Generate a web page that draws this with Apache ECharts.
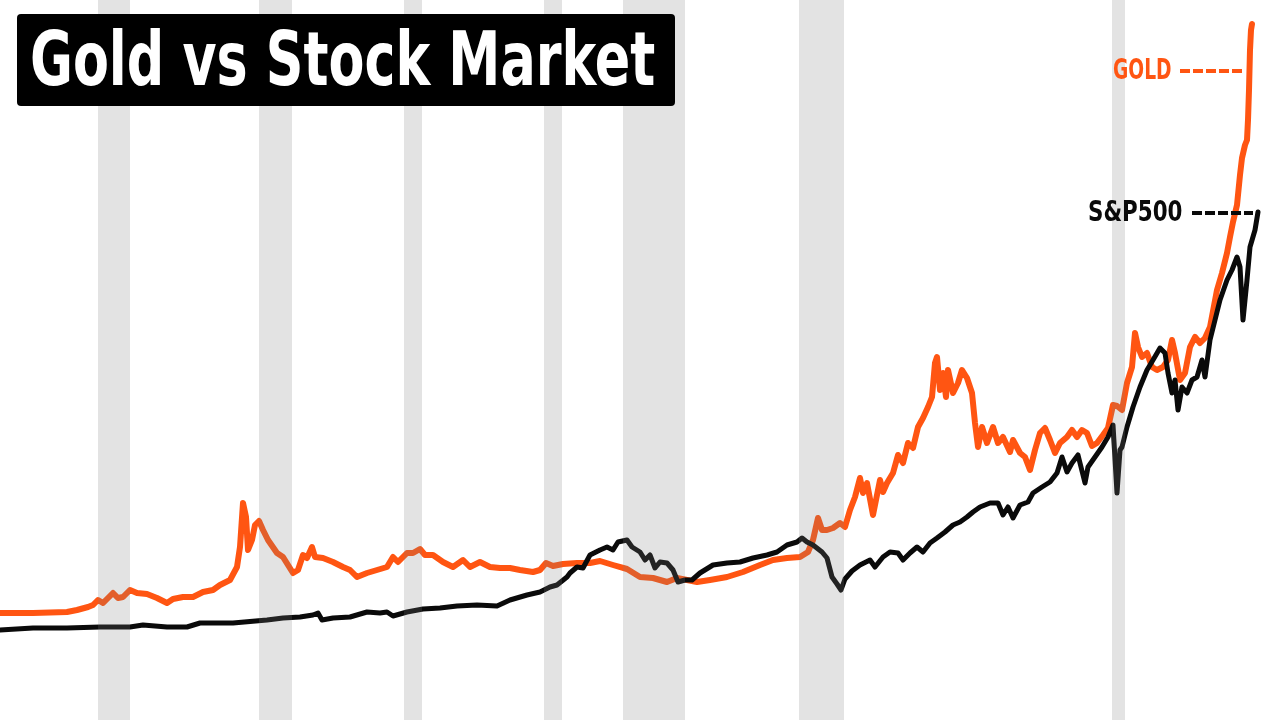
<!DOCTYPE html>
<html>
<head>
<meta charset="utf-8">
<script src="https://cdn.jsdelivr.net/npm/echarts@6/dist/echarts.min.js"></script>
<style>
html,body{margin:0;padding:0;background:#fff;}
#chart{width:1280px;height:720px;}
</style>
</head>
<body>
<div id="chart"></div>
<script>
// Time (decimal years, approximate) and relative value index
const goldT = [1964.00,1965.65,1967.35,1967.85,1968.40,1968.65,1968.90,1969.15,1969.65,1969.90,1970.15,1970.50,1970.85,1971.35,1971.85,1972.35,1972.65,1973.15,1973.65,1974.15,1974.65,1975.00,1975.50,1975.85,1976.00,1976.15,1976.30,1976.40,1976.60,1976.75,1976.95,1977.15,1977.40,1977.85,1978.15,1978.65,1978.90,1979.15,1979.35,1979.60,1979.75,1980.15,1980.65,1981.15,1981.50,1981.85,1982.35,1982.85,1983.35,1983.65,1983.90,1984.35,1984.65,1985.00,1985.25,1985.65,1986.15,1986.65,1987.15,1987.50,1988.00,1988.50,1989.00,1989.50,1990.00,1990.65,1991.00,1991.30,1991.65,1992.15,1992.85,1993.50,1994.00,1994.65,1995.35,1996.00,1996.65,1997.35,1997.85,1998.85,1999.50,2000.35,2001.15,2002.00,2002.65,2003.35,2004.00,2004.40,2004.65,2004.90,2005.10,2005.35,2005.65,2006.00,2006.25,2006.50,2006.75,2007.00,2007.15,2007.35,2007.65,2008.00,2008.15,2008.35,2008.65,2008.90,2009.15,2009.40,2009.65,2009.90,2010.15,2010.40,2010.60,2010.75,2010.85,2011.00,2011.15,2011.30,2011.40,2011.65,2011.90,2012.10,2012.35,2012.60,2012.75,2012.90,2013.10,2013.35,2013.65,2013.90,2014.15,2014.50,2014.65,2015.00,2015.25,2015.50,2015.75,2016.00,2016.25,2016.50,2016.75,2017.00,2017.35,2017.60,2017.85,2018.10,2018.35,2018.60,2018.85,2019.15,2019.40,2019.65,2019.85,2020.10,2020.35,2020.60,2020.75,2020.90,2021.10,2021.35,2021.60,2021.85,2022.15,2022.40,2022.60,2022.75,2023.00,2023.25,2023.50,2023.75,2024.00,2024.25,2024.50,2024.85,2025.10,2025.35,2025.50,2025.65,2025.85,2026.00,2026.10,2026.25,2026.35,2026.40,2026.45,2026.50,2026.55,2026.60];
const goldV = [10.7,10.7,10.8,11.0,11.3,11.5,12.0,11.7,12.7,12.2,12.3,13.0,12.7,12.6,12.2,11.7,12.1,12.3,12.3,12.8,13.0,13.5,14.0,15.3,17.3,21.7,20.3,17.0,18.0,19.5,19.9,19.0,18.0,16.7,16.3,14.7,15.0,16.5,16.2,17.3,16.3,16.2,15.8,15.3,15.0,14.3,14.7,15.0,15.3,16.3,15.8,16.7,16.7,17.1,16.5,16.5,15.8,15.3,16.0,15.3,15.8,15.3,15.2,15.2,15.0,14.8,15.0,15.7,15.4,15.6,15.7,15.7,15.9,15.5,15.1,14.3,14.2,13.8,14.2,13.8,14.0,14.3,14.8,15.5,16.0,16.2,16.3,16.8,18.0,20.2,19.0,19.0,19.2,19.7,19.3,21.0,22.3,24.2,22.7,23.7,20.5,24.0,22.8,23.7,24.7,26.5,25.7,27.7,27.2,29.3,30.2,31.3,32.3,35.7,36.3,33.0,34.7,32.3,35.0,32.7,33.7,35.0,34.2,32.7,29.7,27.3,29.3,27.7,29.3,27.7,28.3,26.8,28.0,26.7,26.3,25.0,27.0,28.7,29.2,28.0,26.7,27.7,28.3,29.0,28.3,29.0,28.7,27.4,27.7,28.5,29.2,31.5,31.4,31.0,33.7,35.3,38.7,37.3,36.3,36.7,35.3,35.0,35.3,36.0,38.0,36.7,34.0,34.7,37.3,38.3,37.7,38.2,39.3,43.0,44.7,46.7,48.3,49.8,51.5,54.5,56.2,57.5,58.0,60.0,63.0,67.0,69.0,69.6];

const spT = [1964.00,1965.65,1967.35,1969.00,1970.50,1971.15,1972.35,1973.35,1974.00,1975.65,1977.35,1978.15,1979.00,1979.65,1979.90,1980.10,1980.65,1981.50,1982.35,1983.00,1983.35,1983.65,1984.35,1985.15,1986.00,1986.85,1987.85,1988.85,1989.50,1990.35,1991.00,1991.50,1991.85,1992.35,1992.50,1992.85,1993.15,1993.50,1994.00,1994.35,1994.65,1994.90,1995.35,1995.60,1996.00,1996.25,1996.50,1996.75,1997.00,1997.35,1997.65,1997.90,1998.25,1998.60,1999.00,1999.65,2000.35,2001.00,2001.65,2002.35,2002.85,2003.35,2003.85,2004.10,2004.35,2004.65,2005.10,2005.35,2005.60,2005.85,2006.05,2006.25,2006.60,2007.00,2007.50,2007.75,2008.15,2008.50,2008.90,2009.15,2009.50,2009.85,2010.15,2010.50,2010.85,2011.25,2011.65,2012.00,2012.35,2012.65,2013.00,2013.50,2013.90,2014.15,2014.40,2014.65,2015.00,2015.40,2015.65,2016.10,2016.50,2016.85,2017.10,2017.35,2017.60,2017.90,2018.25,2018.40,2018.75,2019.10,2019.40,2019.65,2019.85,2020.00,2020.10,2020.35,2020.65,2021.00,2021.35,2021.65,2022.00,2022.25,2022.40,2022.60,2022.75,2022.90,2023.10,2023.35,2023.60,2023.85,2024.10,2024.25,2024.50,2024.75,2025.00,2025.35,2025.60,2025.85,2026.00,2026.15,2026.35,2026.50,2026.75,2026.90];
const spV = [9.0,9.2,9.2,9.3,9.3,9.5,9.3,9.3,9.7,9.7,10.0,10.2,10.3,10.5,10.7,10.0,10.2,10.3,10.8,10.7,10.8,10.4,10.8,11.1,11.2,11.4,11.5,11.4,12.0,12.5,12.8,13.3,13.5,14.3,14.7,15.3,15.2,16.5,17.0,17.3,17.0,17.8,18.0,17.3,16.8,16.0,16.5,15.2,15.8,15.7,15.0,13.8,14.0,14.0,14.7,15.5,15.7,15.8,16.2,16.5,16.8,17.5,17.8,18.2,17.8,17.5,16.8,16.2,14.3,13.6,13.0,14.1,14.9,15.5,16.0,15.3,16.3,16.8,16.7,16.0,16.7,17.3,16.8,17.7,18.2,18.8,19.5,19.8,20.3,20.8,21.3,21.7,21.7,20.5,21.3,20.2,21.5,21.8,22.7,23.3,23.8,24.7,26.3,24.8,25.7,26.5,23.7,25.3,26.3,27.3,28.3,29.5,22.7,27.0,27.3,29.3,31.3,33.3,35.0,36.0,37.2,36.7,34.7,32.7,34.0,31.0,33.3,32.7,34.0,34.3,36.0,34.3,38.0,40.0,42.0,44.0,45.0,46.3,45.3,40.0,44.0,47.3,49.0,50.8];

// Shaded periods [start, end]
const recessions = [[1968.9,1970.5],[1976.95,1978.6],[1984.2,1985.1],[1991.2,1992.1],[1995.15,1998.25],[2003.95,2006.2],[2019.6,2020.25]];

const labels = { title: 'Gold vs Stock Market', gold: 'GOLD', sp: 'S&P500' };

const ORANGE = '#FF5512';
const BLACK = '#0a0a0a';
const FONT = '"DejaVu Sans Condensed","DejaVu Sans",sans-serif';

const chart = echarts.init(document.getElementById('chart'));
chart.setOption({
  animation: false,
  backgroundColor: '#ffffff',
  grid: { left: 0, right: 0, top: 0, bottom: 0 },
  xAxis: { type: 'value', min: 1964, max: 2028, show: false },
  yAxis: { type: 'value', min: 0, max: 72, show: false },
  series: [
    {
      name: 'Gold', type: 'line', z: 2, symbol: 'none', showSymbol: false,
      data: goldT.map((t, i) => [t, goldV[i]]),
      lineStyle: { color: ORANGE, width: 6, cap: 'round', join: 'round' }
    },
    {
      name: 'S&P500', type: 'line', z: 3, symbol: 'none', showSymbol: false,
      data: spT.map((t, i) => [t, spV[i]]),
      lineStyle: { color: BLACK, width: 5, cap: 'round', join: 'round' }
    },
    {
      name: 'bands', type: 'line', z: 10, symbol: 'none', data: [],
      markArea: {
        z: 10, silent: true,
        itemStyle: { color: 'rgba(128,128,128,0.22)' },
        data: recessions.map(r => [{ xAxis: r[0] }, { xAxis: r[1] }])
      }
    }
  ],
  graphic: [
    { type: 'rect', z: 100, shape: { x: 17, y: 14, width: 658, height: 92, r: 4 }, style: { fill: '#000' } },
    { type: 'text', z: 101, x: 30, y: 66, scaleX: 0.775, style: { text: labels.title, font: 'bold 75px ' + FONT, fill: '#fff', verticalAlign: 'middle', align: 'left' } },
    { type: 'text', z: 100, x: 1113, y: 72, scaleX: 0.74, style: { text: labels.gold, font: 'bold 28px ' + FONT, fill: ORANGE, verticalAlign: 'middle', align: 'left' } },
    { type: 'line', z: 100, shape: { x1: 1180, y1: 71, x2: 1242, y2: 71 }, style: { stroke: ORANGE, lineWidth: 4, lineDash: [10, 3] } },
    { type: 'text', z: 100, x: 1088, y: 214, scaleX: 0.85, style: { text: labels.sp, font: 'bold 28px ' + FONT, fill: BLACK, verticalAlign: 'middle', align: 'left' } },
    { type: 'line', z: 100, shape: { x1: 1192, y1: 213, x2: 1253, y2: 213 }, style: { stroke: BLACK, lineWidth: 4, lineDash: [10, 3] } }
  ]
});
</script>
</body>
</html>
